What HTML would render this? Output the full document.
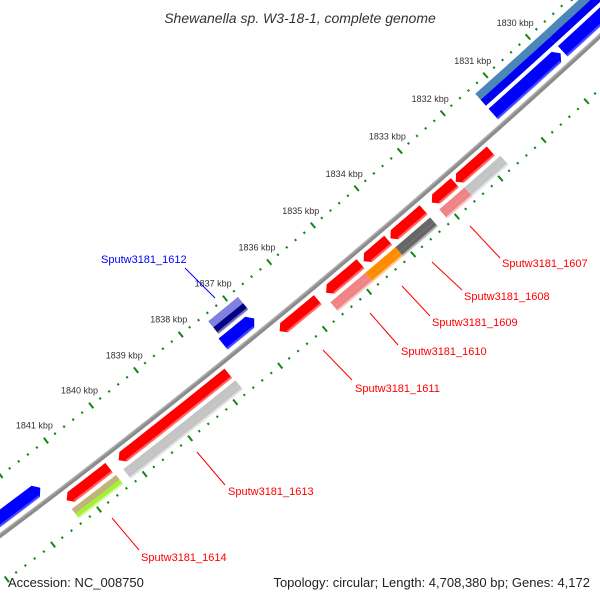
<!DOCTYPE html>
<html><head><meta charset="utf-8"><style>
html,body{margin:0;padding:0;background:#fff;}
svg{display:block;font-family:"Liberation Sans",sans-serif;}
</style></head><body>
<svg id="map" width="600" height="600" viewBox="0 0 600 600" xmlns="http://www.w3.org/2000/svg">
<rect x="0" y="0" width="600" height="600" fill="#fff"/>
<g id="rulers"></g>
<g id="genes"></g>
<g id="labels"></g>
<text x="300" y="23" text-anchor="middle" font-size="14" font-style="italic" fill="#333">Shewanella sp. W3-18-1, complete genome</text>
<text x="8" y="587" font-size="13" fill="#222">Accession: NC_008750</text>
<text x="590" y="587" text-anchor="end" font-size="13" fill="#222">Topology: circular; Length: 4,708,380 bp; Genes: 4,172</text>
</svg>
<script>
// ---- data ----
const tickKbp = [1830,1831,1832,1833,1834,1835,1836,1837,1838,1839,1840,1841];
const redGeneStart = [1841.35,1840.21,1836.63,1835.58,1834.73,1834.12,1833.17,1832.62];
const redGeneEnd   = [1840.42,1837.78,1835.77,1834.80,1834.17,1833.36,1832.64,1831.81];
const cogInStart = [1841.37,1840.24,1835.63,1834.84,1834.15,1833.15,1832.57];
const cogInEnd   = [1840.40,1837.76,1834.84,1834.15,1833.36,1832.57,1831.74];
const cogInColorA = ["#bdb57a","#c4c4c4","#f08484","#ff8c00","#666666","#f08484","#c4c4c4"];
const cogInColorB = ["#a6f032","#c4c4c4","#f08484","#ff8c00","#666666","#f08484","#c4c4c4"];
const blueGeneStart = [1843.5,1837.53,1831.35,1829.72];
const blueGeneEnd   = [1841.58,1836.83,1829.77,1827.5];
const cogOutStart = [1837.48,1831.35,1829.73];
const cogOutEnd   = [1836.81,1829.73,1827.5];
const cogOutColorA = ["#8080e0","#4a86b8","#4a86b8"];
const cogOutColorB = ["#000088","#0000f0","#0000f0"];
const labelText = ["Sputw3181_1607","Sputw3181_1608","Sputw3181_1609","Sputw3181_1610","Sputw3181_1611","Sputw3181_1613","Sputw3181_1614","Sputw3181_1612"];

// ---- geometry ----
const CX=-4577, CY=-5569;
function ang(k){return (52.43+(k-1841)*0.432)*Math.PI/180;}
function pt(r,k){const a=ang(k);return [CX+r*Math.cos(a), CY+r*Math.sin(a)];}
const NS="http://www.w3.org/2000/svg";
function mk(tag,attrs,parent){const e=document.createElementNS(NS,tag);for(const k in attrs)e.setAttribute(k,attrs[k]);parent.appendChild(e);return e;}
const rul=document.getElementById('rulers'), gg=document.getElementById('genes');

// backbone
(function(){
  let d='';for(let i=0;i<=40;i++){const k=1827+i*0.45;const p=pt(7630,k);d+=(i?'L':'M')+p[0].toFixed(1)+' '+p[1].toFixed(1);}
  const b=mk('path',{d:d,fill:'none',stroke:'#8c8c8c','stroke-width':4.5},rul);
  
  
  const b2=mk('path',{d:d,fill:'none',stroke:'#b0b0b0','stroke-width':1.2,transform:'translate(-1,-1)'},rul);
  
  
})();

// ruler ticks
function tick(r,k,len,w,name){
  const p1=pt(r-len/2,k),p2=pt(r+len/2,k);
  const l=mk('line',{x1:p1[0],y1:p1[1],x2:p2[0],y2:p2[1],stroke:'#118811','stroke-width':w},rul);
  
  
}
for(let i=0;i<=90;i++){
  const k=1826+i*0.2;
  const major=Math.abs(k-Math.round(k))<1e-6;
  tick(7582,k,major?7:2.2,2,major?'outer-major-tick':'outer-minor-tick');
  tick(7669,k,major?7:2.2,2,major?'inner-major-tick':'inner-minor-tick');
}
tickKbp.forEach(k=>{
  const p=pt(7563,k);
  const t=mk('text',{x:p[0].toFixed(1),y:(p[1]+3).toFixed(1),'text-anchor':'middle','font-size':9,fill:'#333'},rul);
  t.textContent=k+' kbp';
  
  
});

// gene drawing
function band(ks,ke,r0,r1,fill,name,arrow){
  // arrow: 's' point at ks, 'e' point at ke, null none
  const n=8, pts=[];
  const ah=0.1*Math.sign(ks-ke);
  let a=ks,b=ke;
  if(arrow==='s')a=ks-ah;
  if(arrow==='e')b=ke+ah;
  for(let i=0;i<=n;i++)pts.push(pt(r0,a+(b-a)*i/n));
  if(arrow==='e')pts.push(pt((r0+r1)/2,ke));
  for(let i=n;i>=0;i--)pts.push(pt(r1,a+(b-a)*i/n));
  if(arrow==='s')pts.push(pt((r0+r1)/2,ks));
  const p=mk('polygon',{points:pts.map(q=>q[0].toFixed(1)+','+q[1].toFixed(1)).join(' '),fill:fill},gg);
  
  
  return p;
}
function shade(ks,ke,r0,r1,fill,name){
  const s=band(ks,ke,r0,r1,fill,name,null);
  s.setAttribute('opacity','0.55');
}
redGeneStart.forEach((s,i)=>{
  band(s,redGeneEnd[i],7636,7648,'#ff0000','red-gene','s');
  shade(s-0.1,redGeneEnd[i],7646,7648.5,'#ffb0b0','red-gene-shade');
});
cogInStart.forEach((s,i)=>{
  band(s,cogInEnd[i],7652,7658,cogInColorA[i],'inner-cog-gene',null);
  band(s,cogInEnd[i],7658,7664,cogInColorB[i],'inner-cog-gene',null);
  shade(s,cogInEnd[i],7662,7664.5,'#ffffff','inner-cog-shade');
});
blueGeneStart.forEach((s,i)=>{
  band(s,blueGeneEnd[i],7609,7623,'#0000ff','blue-gene','e');
  shade(s,blueGeneEnd[i]+0.1,7621,7623.5,'#8080ff','blue-gene-shade');
});
cogOutStart.forEach((s,i)=>{
  band(s,cogOutEnd[i],7589,7597,cogOutColorA[i],'outer-cog-gene',null);
  band(s,cogOutEnd[i],7597,7605,cogOutColorB[i],'outer-cog-gene',null);
});
// 1612 light lower strip
shade(1837.48,1836.81,7603,7606,'#cccccc','gene-1612-shade');

// labels with leader lines
const lg=document.getElementById('labels');
const L=[[470,226,500,258,502,267,'#f00'],[432,262,462,290,464,300,'#f00'],[402,286,430,316,432,326,'#f00'],
[370,313,398,345,401,355,'#f00'],[323,350,352,380,355,392,'#f00'],[197,452,225,485,228,495,'#f00'],
[112,518,139,550,141,561,'#f00'],[215,298,185,268,101,263,'#00f']];
L.forEach((q,i)=>{
  const l=mk('line',{x1:q[0],y1:q[1],x2:q[2],y2:q[3],stroke:q[6],'stroke-width':1},lg);
  
  
  const t=mk('text',{x:q[4],y:q[5],'font-size':11,fill:q[6]},lg);
  t.textContent=labelText[i];
  
  
});
</script>
</body></html>
